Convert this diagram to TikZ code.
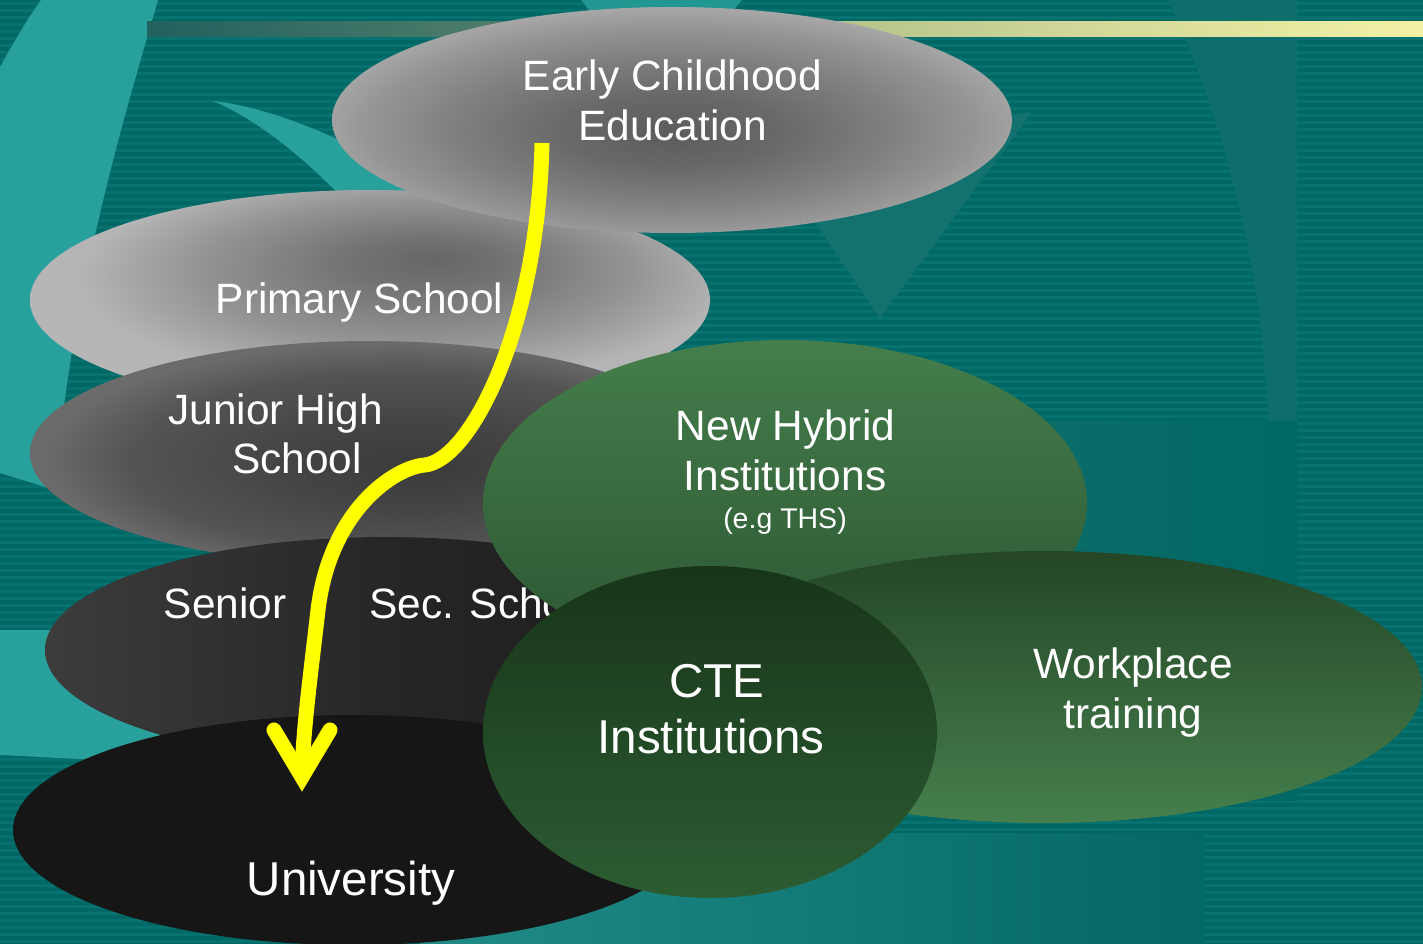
\documentclass[tikz,border=0pt]{standalone}
\usepackage{fontspec}
\setmainfont{Liberation Sans}
\usetikzlibrary{shapes.geometric,calc}
\definecolor{tealbg}{HTML}{006864}
\definecolor{tealstripe}{HTML}{087270}
\definecolor{teallight}{HTML}{28A19D}
\definecolor{tealpatch}{HTML}{229690}
\definecolor{tealsoft}{HTML}{0D6E6B}
\definecolor{tealtri}{HTML}{13716E}
\definecolor{arrowyellow}{HTML}{FFFF00}
\definecolor{nhtop}{HTML}{457E4C}
\definecolor{nhbot}{HTML}{2B5531}
\definecolor{wptop}{HTML}{244626}
\definecolor{wpbot}{HTML}{467F4D}
\definecolor{ctetop}{HTML}{183519}
\definecolor{ctebot}{HTML}{2C5C32}
\definecolor{srleft}{HTML}{3C3C3C}
\definecolor{srmid}{HTML}{262626}
\definecolor{srright}{HTML}{1B1B1B}
\definecolor{univ}{HTML}{161616}
\definecolor{bandL}{HTML}{218B87}
\definecolor{bandR}{HTML}{046864}
\pgfdeclareradialshading{earlyshade}{\pgfpoint{0bp}{-3bp}}{rgb(0bp)=(.36,.36,.36); rgb(8bp)=(.41,.41,.41); rgb(16bp)=(.50,.50,.50); rgb(22bp)=(.58,.58,.58); rgb(26bp)=(.65,.65,.65); rgb(50bp)=(.66,.66,.66)}
\pgfdeclareradialshading{primaryshade}{\pgfpoint{4.85bp}{9.5bp}}{rgb(0bp)=(.40,.40,.40); rgb(6bp)=(.45,.45,.45); rgb(16bp)=(.58,.58,.58); rgb(24bp)=(.71,.71,.71); rgb(50bp)=(.74,.74,.74)}
\pgfdeclareradialshading{juniorshade}{\pgfpoint{4bp}{-3bp}}{rgb(0bp)=(.23,.23,.23); rgb(10bp)=(.27,.27,.27); rgb(20bp)=(.33,.33,.33); rgb(26bp)=(.42,.42,.42); rgb(50bp)=(.42,.42,.42)}
\pgfdeclarehorizontalshading{barshade}{100bp}{rgb(0bp)=(.13,.38,.37); rgb(25bp)=(.13,.38,.37); rgb(38.8bp)=(.31,.49,.42); rgb(46.7bp)=(.54,.64,.49); rgb(52.5bp)=(.71,.77,.55); rgb(62.3bp)=(.83,.85,.60); rgb(75bp)=(.95,.945,.65); rgb(100bp)=(.95,.945,.65)}
\tikzset{
  lvl/.style={ellipse, inner sep=0pt, draw=none},
  lbl/.style={text=white, inner sep=0pt, anchor=base, font=\fontsize{42.4}{50}\selectfont},
  biglbl/.style={lbl, font=\fontsize{47.5}{54}\selectfont},
  smalllbl/.style={lbl, font=\fontsize{28.5}{34}\selectfont},
  flow/.style={draw=arrowyellow, line width=15pt},
}
\begin{document}
\begin{tikzpicture}[x=1pt,y=-1pt]
\fill[tealbg] (0,0) rectangle (1423,944);
\useasboundingbox (0,0) rectangle (1423,944);
% stripes
\foreach \k in {0,...,134} {\fill[tealstripe] (0,7*\k+2) rectangle (1423,7*\k+5);}
% subtle background shapes
\fill[tealsoft] (1168,0) .. controls (1215,100) and (1262,250) .. (1268,421) -- (1297,421) -- (1297,0) -- cycle;
\fill[left color=tealsoft, right color=tealbg] (1000,421) rectangle (1297,800);
\fill[tealtri] (880,318) -- (765,150) -- (1032,112) -- cycle;
\fill[left color=bandL, right color=bandR] (420,833) rectangle (1205,944);
% light swooshes
\fill[teallight] (41,0) -- (158,0) .. controls (120,130) and (70,300) .. (55,490) -- (0,473) -- (0,67) .. controls (15,40) and (30,15) .. cycle;
\fill[teallight] (0,630) -- (200,630) -- (200,765) -- (0,755) -- cycle;
\fill[teallight] (213,101) .. controls (250,105) and (300,120) .. (360,150) -- (420,200) -- (380,240) .. controls (330,180) and (270,125) .. cycle;
\fill[tealpatch] (581,0) -- (742,0) -- (722,24) -- (600,24) -- cycle;
% top bar
\fill[shading=barshade] (147,22) rectangle (1423,37);
% levels
\node[lvl, minimum width=680pt, minimum height=220pt, shading=primaryshade] (primary) at (370,300) {};
\node[lbl] (t-primary) at (359.5,313) {Primary School};
\node[lvl, minimum width=680pt, minimum height=226pt, shading=earlyshade] (early) at (672,120) {};
\node[lbl] (t-early1) at (672.5,91) {Early Childhood};
\node[lbl] (t-early2) at (672.5,141) {Education};
\node[lvl, minimum width=680pt, minimum height=224pt, shading=juniorshade] (junior) at (370,453) {};
\node[lbl] (t-junior1) at (275.5,424) {Junior High};
\node[lbl] (t-junior2) at (297,473) {School};
\node[lvl, minimum width=680pt, minimum height=226pt, left color=srleft, right color=srright, middle color=srmid] (senior) at (385,650) {};
\node[lbl] (t-senior1) at (225,618) {Senior};
\node[lbl, anchor=base west] (t-senior2) at (369,618) {Sec. School};
\node[lvl, minimum width=680pt, minimum height=230pt, fill=univ] (univ) at (353,830) {};
\node[biglbl] (t-univ) at (351,895) {University};
\node[lvl, minimum width=604pt, minimum height=326pt, top color=nhtop, bottom color=nhbot] (hybrid) at (785,503) {};
\node[lbl] (t-hybrid1) at (785.5,440) {New Hybrid};
\node[lbl] (t-hybrid2) at (785,490) {Institutions};
\node[smalllbl] (t-hybrid3) at (785,528) {(e.g THS)};
\node[lvl, minimum width=756pt, minimum height=272pt, top color=wptop, bottom color=wpbot] (work) at (1044,687) {};
\node[lbl] (t-work1) at (1133,678) {Workplace};
\node[lbl] (t-work2) at (1133,728) {training};
\node[lvl, minimum width=454pt, minimum height=332pt, top color=ctetop, bottom color=ctebot] (cte) at (710,732) {};
\node[biglbl] (t-cte1) at (716.5,697) {CTE};
\node[biglbl] (t-cte2) at (711,753) {Institutions};
% pathway arrow
\coordinate (astart) at (542,143);
\coordinate (akink) at (425,465);
\coordinate (aend) at (302,777);
\draw[flow, line cap=butt, line join=round] (astart) .. controls (538,330) and (470,460) .. (akink) .. controls (395,467) and (330,510) .. (318,610) .. controls (310,680) and (303,730) .. (aend);
\draw[flow, line cap=round, line join=miter] ($(aend)+(-28,-47)$) -- (aend) -- ($(aend)+(28,-47)$);
\end{tikzpicture}
\end{document}
